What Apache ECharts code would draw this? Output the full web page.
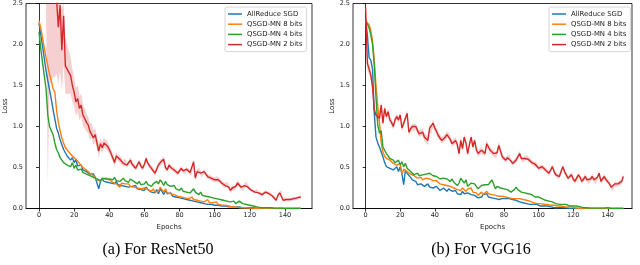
<!DOCTYPE html>
<html><head><meta charset="utf-8">
<script src="https://cdn.jsdelivr.net/npm/echarts@6/dist/echarts.min.js"></script>
<style>html,body{margin:0;padding:0;background:#fff}#c{width:640px;height:265px}</style>
</head><body><div id="c"></div>
<script>
// ---------- data (loss per epoch, epochs 0..149) ----------
const seriesNames = ['AllReduce SGD','QSGD-MN 8 bits','QSGD-MN 4 bits','QSGD-MN 2 bits'];
const xTicks = [0,20,40,60,80,100,120,140];
const captions = ['(a) For ResNet50','(b) For VGG16'];

// ResNet50
const blueL = [2.26,2.12,1.98,1.83,1.68,1.56,1.45,1.33,1.21,1.20,
 0.98,0.92,0.84,0.78,0.72,0.68,0.64,0.66,0.59,0.62,
 0.56,0.60,0.52,0.50,0.53,0.47,0.49,0.45,0.46,0.42,
 0.40,0.42,0.38,0.36,0.24,0.33,0.36,0.33,0.35,0.32,
 0.34,0.31,0.33,0.30,0.33,0.29,0.31,0.28,0.30,0.27,
 0.29,0.26,0.28,0.27,0.25,0.28,0.24,0.26,0.23,0.25,
 0.22,0.26,0.23,0.24,0.20,0.22,0.19,0.23,0.18,0.24,
 0.21,0.17,0.22,0.18,0.16,0.19,0.15,0.17,0.14,0.16,
 0.13,0.15,0.12,0.14,0.11,0.13,0.10,0.12,0.09,0.11,
 0.08,0.10,0.07,0.09,0.06,0.08,0.05,0.07,0.05,0.06,
 0.04,0.05,0.04,0.05,0.03,0.04,0.03,0.03,0.02,0.03,
 0.02,0.02,0.02,0.01,0.02,0.01,0.01,0.01,0.01,0.01,
 0.01,0.005,0.01,0.005,0.005,0.005,0,0,0.005,0,
 0,0,0,0,0,0,0,0,0,0,
 0,0,0,0,0,0,0,0,0,0];
const orangeL = [2.29,2.20,2.08,1.96,1.84,1.74,1.64,1.56,1.46,1.42,
 1.20,1.05,0.95,0.86,0.80,0.74,0.76,0.69,0.71,0.64,
 0.66,0.60,0.58,0.55,0.56,0.50,0.52,0.47,0.45,0.43,
 0.42,0.40,0.39,0.35,0.37,0.33,0.36,0.34,0.37,0.35,
 0.35,0.33,0.32,0.34,0.30,0.32,0.26,0.31,0.29,0.30,
 0.28,0.30,0.27,0.29,0.26,0.28,0.25,0.27,0.24,0.26,
 0.25,0.27,0.23,0.25,0.21,0.24,0.20,0.22,0.21,0.26,
 0.23,0.20,0.24,0.19,0.21,0.18,0.19,0.17,0.18,0.15,
 0.16,0.14,0.16,0.13,0.15,0.12,0.13,0.14,0.11,0.12,
 0.10,0.12,0.09,0.11,0.08,0.10,0.11,0.07,0.09,0.07,
 0.06,0.08,0.05,0.06,0.04,0.05,0.04,0.04,0.03,0.03,
 0.02,0.03,0.02,0.02,0.01,0.02,0.01,0.01,0.01,0.01,
 0.005,0.01,0.005,0.005,0,0.005,0,0,0,0,
 0,0,0,0,0,0,0,0,0,0,
 0,0,0,0,0,0,0,0,0,0];
const greenL = [2.15,1.95,1.78,1.62,1.46,1.14,1.00,0.95,0.90,0.80,
 0.72,0.68,0.62,0.61,0.56,0.58,0.53,0.55,0.51,0.56,
 0.49,0.53,0.47,0.45,0.48,0.44,0.46,0.42,0.43,0.40,
 0.41,0.38,0.40,0.36,0.38,0.34,0.37,0.39,0.36,0.38,
 0.36,0.37,0.35,0.38,0.34,0.36,0.33,0.35,0.37,0.34,
 0.35,0.32,0.36,0.38,0.33,0.35,0.30,0.33,0.29,0.31,
 0.30,0.33,0.29,0.31,0.27,0.30,0.28,0.33,0.30,0.35,
 0.32,0.28,0.33,0.29,0.30,0.27,0.25,0.28,0.24,0.26,
 0.22,0.25,0.21,0.23,0.20,0.22,0.19,0.21,0.24,0.20,
 0.19,0.17,0.20,0.16,0.18,0.15,0.17,0.14,0.15,0.13,
 0.14,0.12,0.13,0.11,0.12,0.10,0.11,0.09,0.10,0.08,
 0.07,0.09,0.06,0.08,0.09,0.07,0.06,0.05,0.05,0.04,
 0.04,0.03,0.03,0.02,0.02,0.02,0.01,0.01,0.01,0.01,
 0.01,0.005,0.01,0.005,0.005,0.005,0.005,0,0.005,0,
 0,0,0,0,0,0,0,0,0,0];
const redL = [3.6,3.4,3.3,3.2,3.0,2.9,2.8,2.75,2.7,2.6,
 2.55,2.21,2.48,1.93,2.35,1.74,1.70,1.66,1.62,1.50,
 1.42,1.30,1.34,1.22,1.26,1.14,1.10,1.05,1.02,0.94,
 0.95,0.86,0.90,0.80,0.70,0.79,0.74,0.80,0.78,0.76,
 0.72,0.67,0.62,0.56,0.64,0.62,0.60,0.58,0.55,0.57,
 0.53,0.55,0.59,0.54,0.52,0.49,0.53,0.57,0.52,0.49,
 0.54,0.61,0.55,0.52,0.49,0.47,0.43,0.48,0.53,0.56,
 0.57,0.60,0.50,0.47,0.53,0.50,0.48,0.47,0.45,0.43,
 0.46,0.49,0.46,0.45,0.48,0.46,0.44,0.43,0.57,0.37,
 0.45,0.47,0.43,0.41,0.45,0.42,0.39,0.38,0.37,0.36,
 0.35,0.36,0.35,0.34,0.31,0.29,0.28,0.30,0.26,0.22,
 0.25,0.24,0.27,0.31,0.29,0.26,0.24,0.28,0.30,0.26,
 0.24,0.22,0.21,0.20,0.22,0.19,0.18,0.17,0.19,0.20,
 0.19,0.18,0.17,0.15,0.13,0.10,0.16,0.19,0.20,0.10,
 0.12,0.11,0.10,0.11,0.11,0.12,0.12,0.13,0.14,0.14];
const redLStd = [0.5,0.5,0.5,0.5,0.5,2.6,1.3,1.2,1.1,1.0,
 0.9,0.7,0.8,0.5,0.6,0.35,0.3,0.26,0.22,0.2,
 0.18,0.17,0.16,0.15,0.14,0.13,0.12,0.11,0.10,0.10,
 0.09,0.09,0.08,0.08,0.08,0.07,0.07,0.06,0.06,0.06,
 0.05,0.05,0.05,0.05,0.04,0.04,0.04,0.04,0.04,0.04,
 0.03,0.03,0.04,0.03,0.03,0.03,0.04,0.03,0.03,0.03,
 0.03,0.04,0.03,0.03,0.03,0.03,0.03,0.03,0.03,0.04,
 0.03,0.04,0.03,0.03,0.03,0.03,0.03,0.03,0.03,0.03,
 0.03,0.03,0.03,0.03,0.03,0.03,0.03,0.03,0.04,0.03,
 0.03,0.03,0.03,0.03,0.03,0.03,0.03,0.03,0.03,0.03,
 0.03,0.03,0.03,0.03,0.03,0.03,0.03,0.03,0.03,0.03,
 0.03,0.03,0.03,0.03,0.03,0.03,0.03,0.03,0.03,0.03,
 0.02,0.02,0.02,0.02,0.02,0.02,0.02,0.02,0.02,0.02,
 0.02,0.02,0.02,0.02,0.02,0.02,0.02,0.02,0.02,0.02,
 0.02,0.02,0.02,0.02,0.02,0.02,0.02,0.02,0.02,0.02];

// VGG16
const blueR = [2.30,2.12,1.84,1.81,1.70,1.16,0.87,0.80,0.75,0.77,
 0.63,0.56,0.51,0.50,0.49,0.50,0.47,0.49,0.51,0.45,
 0.51,0.42,0.29,0.47,0.43,0.41,0.38,0.35,0.37,0.33,
 0.29,0.31,0.30,0.28,0.27,0.29,0.30,0.26,0.28,0.25,
 0.23,0.27,0.25,0.22,0.20,0.25,0.23,0.21,0.24,0.23,
 0.21,0.19,0.22,0.18,0.20,0.17,0.21,0.18,0.16,0.19,
 0.20,0.17,0.19,0.16,0.18,0.13,0.15,0.14,0.17,0.15,
 0.18,0.14,0.16,0.13,0.15,0.12,0.14,0.11,0.13,0.12,
 0.13,0.12,0.13,0.12,0.13,0.11,0.12,0.10,0.09,0.08,
 0.08,0.07,0.08,0.06,0.07,0.05,0.06,0.05,0.04,0.05,
 0.04,0.03,0.04,0.03,0.02,0.03,0.02,0.02,0.01,0.01,
 0.01,0.01,0.01,0.01,0.005,0.01,0.005,0.005,0,0,
 0,0,0,0,0,0,0,0,0,0,
 0,0,0,0,0,0,0,0,0,0,
 0,0,0,0,0,0,0,0,0,0];
const orangeR = [2.29,2.27,2.24,2.17,2.05,1.80,1.50,1.25,1.05,0.80,
 0.69,0.64,0.61,0.60,0.59,0.57,0.55,0.56,0.53,0.53,
 0.55,0.42,0.48,0.46,0.45,0.44,0.42,0.41,0.40,0.38,
 0.37,0.36,0.38,0.35,0.35,0.37,0.39,0.36,0.35,0.34,
 0.33,0.34,0.33,0.30,0.31,0.29,0.30,0.28,0.29,0.27,
 0.27,0.25,0.26,0.23,0.24,0.22,0.25,0.23,0.21,0.24,
 0.22,0.25,0.20,0.22,0.19,0.16,0.18,0.20,0.17,0.19,
 0.21,0.18,0.20,0.17,0.19,0.16,0.17,0.15,0.16,0.15,
 0.15,0.14,0.15,0.13,0.14,0.12,0.13,0.12,0.11,0.12,
 0.10,0.11,0.09,0.10,0.08,0.09,0.08,0.07,0.08,0.06,
 0.07,0.06,0.07,0.05,0.06,0.05,0.05,0.04,0.05,0.04,
 0.04,0.03,0.04,0.03,0.03,0.02,0.02,0.02,0.01,0.02,
 0.01,0.01,0.01,0.005,0.005,0,0,0,0,0,
 0,0,0,0,0,0,0,0,0,0,
 0,0,0,0,0,0,0,0,0,0];
const greenR = [2.28,2.25,2.20,2.12,2.00,1.75,1.35,1.02,0.92,0.95,
 0.75,0.71,0.67,0.64,0.61,0.60,0.59,0.56,0.55,0.59,
 0.53,0.57,0.51,0.55,0.49,0.47,0.45,0.43,0.41,0.42,
 0.43,0.40,0.39,0.41,0.40,0.42,0.41,0.43,0.41,0.40,
 0.41,0.39,0.39,0.36,0.35,0.37,0.39,0.36,0.34,0.33,
 0.36,0.32,0.30,0.28,0.31,0.37,0.34,0.31,0.35,0.27,
 0.29,0.31,0.33,0.30,0.27,0.24,0.26,0.28,0.27,0.29,
 0.31,0.29,0.32,0.35,0.30,0.24,0.27,0.26,0.25,0.27,
 0.24,0.24,0.23,0.22,0.20,0.21,0.23,0.26,0.23,0.22,
 0.20,0.18,0.19,0.17,0.18,0.16,0.17,0.15,0.14,0.15,
 0.14,0.13,0.12,0.11,0.10,0.11,0.09,0.08,0.08,0.07,
 0.06,0.07,0.05,0.06,0.05,0.04,0.05,0.04,0.03,0.03,
 0.03,0.02,0.03,0.02,0.02,0.01,0.01,0.01,0.01,0.01,
 0.005,0.01,0.005,0.005,0.005,0.005,0.005,0.005,0.005,0.01,
 0.01,0.005,0,0,0,0,0,0,0,0];
const redR = [2.45,1.77,1.70,1.63,1.48,1.20,1.14,1.12,1.10,1.26,
 1.04,1.22,1.12,1.18,1.08,1.05,1.00,1.08,1.12,1.08,
 1.14,0.98,1.04,1.10,1.16,0.93,0.97,1.00,0.98,1.00,
 0.95,0.91,0.93,0.93,0.87,0.85,0.83,0.98,0.96,1.04,
 0.98,0.94,0.89,0.86,0.83,0.85,0.87,0.90,0.89,0.84,
 0.79,0.81,0.83,0.78,0.67,0.83,0.73,0.87,0.80,0.67,
 0.78,0.87,0.75,0.83,0.72,0.67,0.69,0.71,0.69,0.67,
 0.79,0.75,0.71,0.69,0.67,0.65,0.68,0.77,0.70,0.63,
 0.61,0.59,0.62,0.63,0.58,0.55,0.57,0.59,0.63,0.67,
 0.61,0.59,0.61,0.63,0.60,0.59,0.56,0.55,0.54,0.53,
 0.49,0.50,0.51,0.49,0.47,0.45,0.43,0.47,0.51,0.45,
 0.41,0.40,0.39,0.45,0.51,0.45,0.41,0.37,0.39,0.41,
 0.36,0.33,0.37,0.41,0.38,0.33,0.36,0.39,0.35,0.33,
 0.36,0.39,0.35,0.33,0.38,0.43,0.33,0.36,0.39,0.35,
 0.33,0.30,0.26,0.24,0.30,0.29,0.30,0.31,0.33,0.39];
const redRStd = [0.05,0.08,0.07,0.06,0.06,0.05,0.04,0.04,0.04,0.05,
 0.05,0.04,0.04,0.04,0.04,0.04,0.04,0.04,0.04,0.04,
 0.04,0.04,0.04,0.04,0.04,0.04,0.04,0.04,0.04,0.04,
 0.04,0.04,0.04,0.05,0.05,0.05,0.06,0.06,0.05,0.05,
 0.04,0.04,0.04,0.04,0.04,0.04,0.04,0.04,0.04,0.04,
 0.04,0.04,0.04,0.04,0.04,0.04,0.04,0.04,0.04,0.04,
 0.04,0.04,0.04,0.04,0.04,0.04,0.04,0.04,0.04,0.04,
 0.04,0.04,0.04,0.04,0.04,0.04,0.04,0.04,0.04,0.04,
 0.03,0.03,0.03,0.03,0.03,0.03,0.03,0.03,0.03,0.03,
 0.03,0.03,0.03,0.03,0.03,0.03,0.03,0.03,0.03,0.03,
 0.03,0.03,0.03,0.03,0.03,0.03,0.03,0.03,0.03,0.03,
 0.03,0.03,0.03,0.03,0.03,0.03,0.03,0.03,0.03,0.03,
 0.03,0.03,0.03,0.03,0.03,0.03,0.03,0.03,0.03,0.03,
 0.03,0.03,0.03,0.03,0.03,0.03,0.03,0.03,0.03,0.03,
 0.03,0.03,0.03,0.03,0.03,0.03,0.03,0.03,0.03,0.03];

// ---------- chart ----------
const colors = ['#1f77b4','#ff7f0e','#2ca02c','#d62728'];
const pairs = arr => arr.map((v,i)=>[i,v]);
const FONT = 'DejaVu Sans';
const YMAX = 2.5;

function lineSeries(idx, name, arr, color){
  return {type:'line', name, xAxisIndex:idx, yAxisIndex:idx, data:pairs(arr),
    color, symbol:'none', showSymbol:false, lineStyle:{width:1.4, color}, z:3, clip:true};
}
// std band drawn as one polygon through the axis scales
function bandSeries(idx, mean, std, key){
  const clamp = v => Math.max(0, Math.min(YMAX, v));
  const data = mean.map((v,i)=>[i, clamp(v-std[i]), clamp(v+std[i])]);
  return {type:'custom', name:key, xAxisIndex:idx, yAxisIndex:idx, data, silent:true, z:2,
    encode:{x:0, y:[1,2]},
    renderItem:(params, api) => {
      if (params.dataIndex !== 0) return;
      const up = data.map(d => api.coord([d[0], d[2]]));
      const lo = data.map(d => api.coord([d[0], d[1]])).reverse();
      return {type:'polygon', shape:{points:up.concat(lo)}, style:{fill:'rgba(214,39,40,0.22)'}, silent:true};
    }};
}
function xAxis(idx, min, max){
  return {type:'value', gridIndex:idx, min, max, name:'Epochs', nameLocation:'middle', nameGap:14,
    nameTextStyle:{fontFamily:FONT, fontSize:7, color:'#222'},
    axisLine:{show:true, lineStyle:{color:'#000', width:0.8}},
    axisTick:{show:true, length:3, lineStyle:{color:'#000', width:0.8}, customValues:xTicks},
    axisLabel:{fontFamily:FONT, fontSize:6.5, color:'#222', margin:3, customValues:xTicks},
    splitLine:{show:false}};
}
function yAxis(idx){
  return {type:'value', gridIndex:idx, min:0, max:YMAX, interval:0.5, name:'Loss', nameLocation:'middle',
    nameGap:17, nameRotate:90, nameTextStyle:{fontFamily:FONT, fontSize:7, color:'#222'},
    axisLine:{show:true, lineStyle:{color:'#000', width:0.8}},
    axisTick:{show:true, length:3, lineStyle:{color:'#000', width:0.8}},
    axisLabel:{fontFamily:FONT, fontSize:6.5, color:'#222', margin:3, formatter:v=>v.toFixed(1)},
    splitLine:{show:false}};
}
function legend(left){
  return {data:seriesNames, orient:'vertical', left, top:7, icon:'rect', itemWidth:14, itemHeight:1.5,
    itemGap:2.2, padding:[3,4,3,3], borderColor:'#cccccc', borderWidth:0.8, borderRadius:2,
    backgroundColor:'rgba(255,255,255,0.8)',
    textStyle:{fontFamily:FONT, fontSize:6.9, color:'#222', lineHeight:8}};
}

const mains = [[blueL,orangeL,greenL,redL],[blueR,orangeR,greenR,redR]];
const series = [
  bandSeries(0, redL, redLStd, 'bandL'),
  bandSeries(1, redR, redRStd, 'bandR')
];
mains.forEach((group, g) => group.forEach((arr, k) => series.push(lineSeries(g, seriesNames[k], arr, colors[k]))));

const chart = echarts.init(document.getElementById('c'), null, {renderer:'canvas', width:640, height:265});
chart.setOption({
  animation:false,
  backgroundColor:'#fff',
  grid:[
    {left:26, top:3.5, width:286, height:205, show:true, borderColor:'#000', borderWidth:0.8, backgroundColor:'transparent'},
    {left:353, top:3.5, width:279, height:205, show:true, borderColor:'#000', borderWidth:0.8, backgroundColor:'transparent'}
  ],
  xAxis:[xAxis(0,-7.4,155.4), xAxis(1,-7.3,154)],
  yAxis:[yAxis(0), yAxis(1)],
  legend:[legend(225), legend(549)],
  series,
  graphic:[
    {type:'text', x:158, y:250, style:{text:captions[0], fontFamily:'Liberation Serif', fontSize:16, fill:'#000', align:'center', verticalAlign:'middle'}},
    {type:'text', x:481, y:250, style:{text:captions[1], fontFamily:'Liberation Serif', fontSize:16, fill:'#000', align:'center', verticalAlign:'middle'}}
  ]
});
</script></body></html>
